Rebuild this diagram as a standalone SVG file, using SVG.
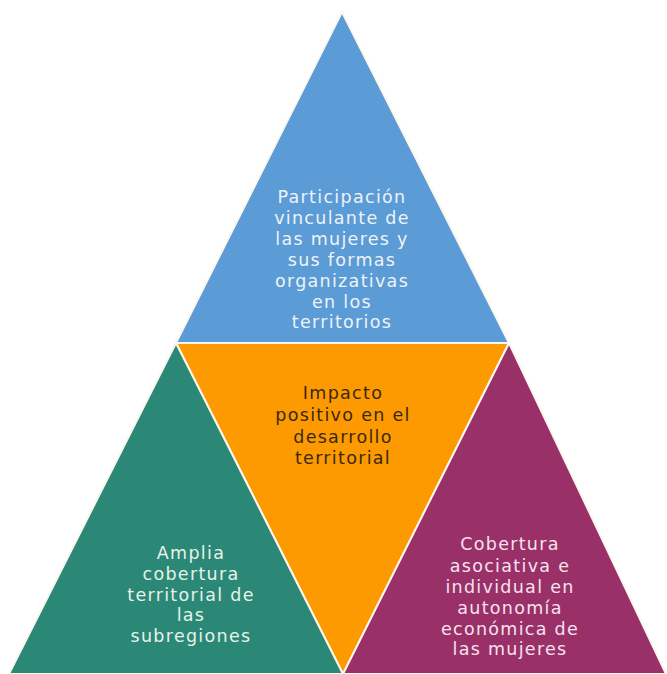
<svg xmlns="http://www.w3.org/2000/svg" width="667" height="674" viewBox="0 0 667 674">
<style>
.tri{stroke:#fbf7ee;stroke-width:2;stroke-linejoin:miter}
text{font-family:"DejaVu Sans","Noto Sans",sans-serif;font-size:17.5px;letter-spacing:1.3px;text-anchor:middle}
.lt{fill:#eef3f8}
.dk{fill:#3a2810}
.pk{fill:#f6e2ee}
.tl{fill:#e6f3ea}
</style>
<rect width="667" height="674" fill="#ffffff"/>
<g id="top">
<polygon class="tri" points="342,12 176,343 509,343" fill="#5b9bd6"/>
<text class="lt"><tspan x="342" y="203">Participación</tspan><tspan x="342" y="224">vinculante de</tspan><tspan x="342" y="245">las mujeres y</tspan><tspan x="342" y="266">sus formas</tspan><tspan x="342" y="287">organizativas</tspan><tspan x="342" y="308">en los</tspan><tspan x="342" y="328">territorios</tspan></text>
</g>
<g id="center">
<polygon class="tri" points="176,343 509,343 343,674" fill="#fd9a01"/>
<text class="dk"><tspan x="343" y="399">Impacto</tspan><tspan x="343" y="421">positivo en el</tspan><tspan x="343" y="443">desarrollo</tspan><tspan x="343" y="464">territorial</tspan></text>
</g>
<g id="left">
<polygon class="tri" points="176,343 9,674 343,674" fill="#2c8876"/>
<text class="tl"><tspan x="191" y="559">Amplia</tspan><tspan x="191" y="580">cobertura</tspan><tspan x="191" y="601">territorial de</tspan><tspan x="191" y="621">las</tspan><tspan x="191" y="642">subregiones</tspan></text>
</g>
<g id="right">
<polygon class="tri" points="509,343 343,674 666,674" fill="#9a3068"/>
<text class="pk"><tspan x="510" y="550">Cobertura</tspan><tspan x="510" y="572">asociativa e</tspan><tspan x="510" y="593">individual en</tspan><tspan x="510" y="614">autonomía</tspan><tspan x="510" y="635">económica de</tspan><tspan x="510" y="655">las mujeres</tspan></text>
</g>
<g id="connectors"></g>
</svg>
